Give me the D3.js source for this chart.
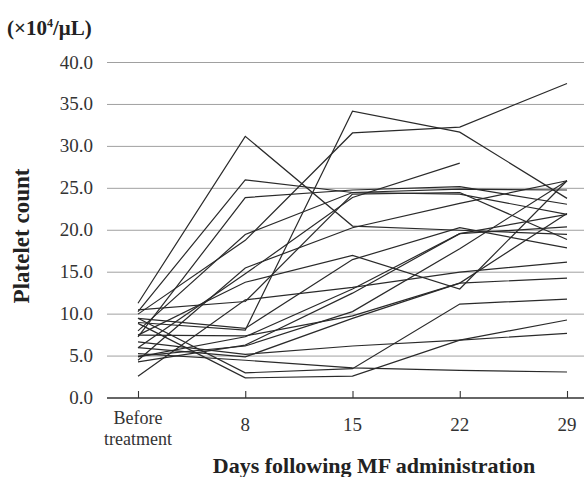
<!DOCTYPE html>
<html>
<head>
<meta charset="utf-8">
<script src="https://cdn.jsdelivr.net/npm/d3@7"></script>
<style>
  body { margin: 0; background: #fff; }
  svg { display: block; font-family: "Liberation Serif", "DejaVu Serif", serif; }
</style>
</head>
<body>
<svg id="chart" width="584" height="477"></svg>
<script>
// time points (x categories)
const days = ['Before', '8', '15', '22', '29'];
const yTicks = [0, 5, 10, 15, 20, 25, 30, 35, 40];

// platelet count per patient (x10^4/uL), one array per patient, null = no value
const p01 = [11.3, 31.2, 20.5, 20.0, 19.5];
const p02 = [10.3, 26.0, 24.5, 24.3, 21.9];
const p03 = [7.3, 23.9, 24.8, 25.2, 23.1];
const p04 = [9.0, 8.1, 34.2, 31.7, 23.8];
const p05 = [10.0, 18.8, 31.6, 32.3, 37.5];
const p06 = [6.0, 14.8, 23.9, 28.0, null];
const p07 = [7.5, 13.8, 17.0, 13.0, 25.9];
const p08 = [5.0, 6.2, 10.3, 17.8, 25.9];
const p09 = [4.5, 15.5, 20.3, 23.2, 25.9];
const p10 = [9.5, 3.0, 3.5, 11.2, 11.8];
const p11 = [8.9, 2.4, 2.6, 6.9, 9.3];
const p12 = [5.3, 4.5, 3.6, 3.3, 3.1];
const p13 = [6.7, 5.2, 6.2, 6.9, 7.7];
const p14 = [2.6, 11.7, 13.2, 15.0, 16.2];
const p15 = [7.5, 7.4, 9.8, 13.7, 14.3];
const p16 = [4.3, 6.3, 12.5, 19.6, 21.9];
const p17 = [9.5, 8.3, 16.5, 20.3, 17.9];
const p18 = [10.5, 11.5, 24.3, 24.5, 18.9];
const p19 = [6.0, 4.9, 9.5, 13.7, 22.0];
const p20 = [4.9, 7.3, 13.0, 19.6, 20.4];
const p21 = [8.0, 19.5, 24.5, 24.9, 24.8];

const patients = [p01, p02, p03, p04, p05, p06, p07, p08, p09, p10, p11,
                  p12, p13, p14, p15, p16, p17, p18, p19, p20, p21];

const svg = d3.select('#chart');
const plotLeft = 107, plotRight = 584, plotTop = 62.5, plotBottom = 398;

const x = d3.scalePoint().domain(days).range([138, 567]);
const y = d3.scaleLinear().domain([0, 40]).range([plotBottom, plotTop]);

// horizontal grid lines
svg.append('g')
  .selectAll('line')
  .data(yTicks.filter(d => d > 0))
  .join('line')
    .attr('x1', plotLeft).attr('x2', plotRight)
    .attr('y1', d => y(d)).attr('y2', d => y(d))
    .attr('stroke', '#a0a0a0')
    .attr('stroke-width', 1);

// y tick labels (no axis line, labels only)
svg.append('g')
  .selectAll('text')
  .data(yTicks)
  .join('text')
    .attr('x', 93)
    .attr('y', d => y(d) + 6)
    .attr('text-anchor', 'end')
    .attr('font-size', 19)
    .attr('fill', '#333')
    .text(d => d.toFixed(1));

// x axis: baseline with ticks pointing up
const xAxisG = svg.append('g')
  .attr('transform', `translate(0,${plotBottom})`)
  .call(d3.axisTop(x).tickSize(7).tickFormat(''));
xAxisG.select('.domain').remove();
xAxisG.selectAll('line').attr('stroke', '#333').attr('stroke-width', 1.1);
svg.append('line')
  .attr('x1', plotLeft).attr('x2', plotRight)
  .attr('y1', plotBottom).attr('y2', plotBottom)
  .attr('stroke', '#333')
  .attr('stroke-width', 1.3);

// x tick labels
const xl = svg.append('g');
days.forEach(d => {
  if (d === 'Before') {
    xl.append('text').attr('x', x(d)).attr('y', 424).attr('text-anchor', 'middle')
      .attr('font-size', 18).attr('fill', '#333').text('Before');
    xl.append('text').attr('x', x(d)).attr('y', 445).attr('text-anchor', 'middle')
      .attr('font-size', 18).attr('fill', '#333').text('treatment');
  } else {
    xl.append('text').attr('x', x(d)).attr('y', 431).attr('text-anchor', 'middle')
      .attr('font-size', 19).attr('fill', '#333').text(d);
  }
});

// patient lines
const line = d3.line()
  .defined(d => d != null)
  .x((d, i) => x(days[i]))
  .y(d => y(d));

svg.append('g')
  .selectAll('path')
  .data(patients)
  .join('path')
    .attr('d', line)
    .attr('fill', 'none')
    .attr('stroke', '#2a2a2a')
    .attr('stroke-width', 1.2);

// titles
svg.append('text')
  .attr('x', 7).attr('y', 35)
  .attr('font-size', 21).attr('font-weight', 'bold').attr('fill', '#222')
  .html('(×10<tspan dy="-8" font-size="12">4</tspan><tspan dy="8">/μL)</tspan>');

svg.append('text')
  .attr('transform', 'translate(29,236) rotate(-90)')
  .attr('text-anchor', 'middle')
  .attr('font-size', 23).attr('font-weight', 'bold').attr('fill', '#222')
  .text('Platelet count');

svg.append('text')
  .attr('x', 374).attr('y', 473)
  .attr('text-anchor', 'middle')
  .attr('font-size', 22).attr('font-weight', 'bold').attr('fill', '#222')
  .text('Days following MF administration');
</script>
</body>
</html>
